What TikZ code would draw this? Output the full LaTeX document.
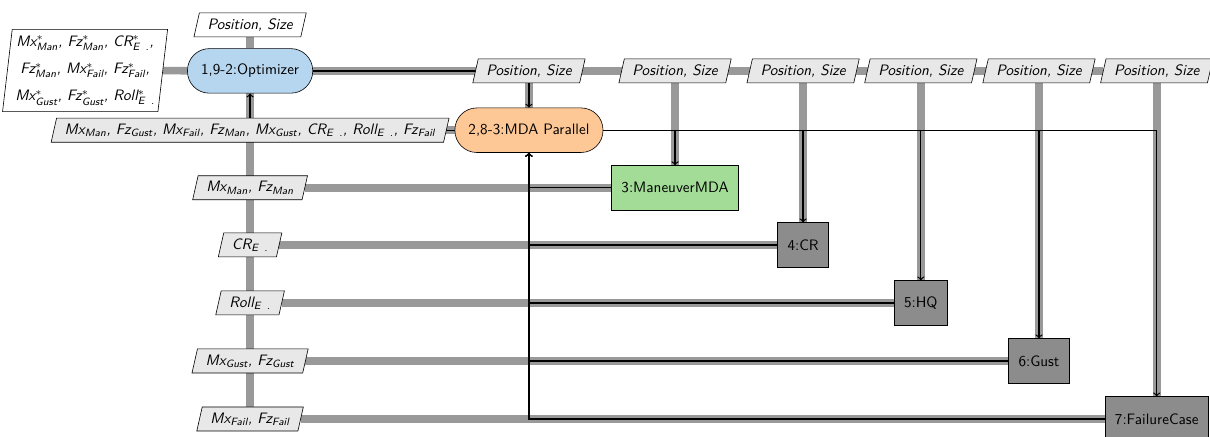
\documentclass[tikz,border=0pt]{standalone}
\usepackage{amsmath}
\usepackage{tikz}
\usetikzlibrary{arrows,backgrounds,calc}

\definecolor{optblue}{RGB}{182,214,240}
\definecolor{mdaorange}{RGB}{253,200,150}
\definecolor{subgreen}{RGB}{162,220,150}
\definecolor{funcgray}{RGB}{140,140,140}
\definecolor{datafill}{RGB}{232,232,232}

\pgfdeclarelayer{boxes}
\pgfsetlayers{background,boxes,main}

\newcommand{\vsb}[2]{#1$_{\text{#2}}$}
\newcommand{\vopt}[2]{#1$^{*}_{\text{#2}}$}
% slanted frame behind a data node
\newcommand{\dbox}[3][1.8pt]{%
  \draw[fill=#3] ($(#2.south west)+(-#1,0)$) -- ($(#2.north west)+(#1,0)$)
    -- ($(#2.north east)+(#1,0)$) -- ($(#2.south east)+(-#1,0)$) -- cycle;}

\tikzset{
  optim/.style={draw,fill=optblue,rounded corners=14.5pt,minimum height=29.5pt,inner xsep=9pt,font=\sffamily},
  mda/.style={optim,fill=mdaorange},
  func/.style={draw,fill=funcgray,minimum height=29.5pt,inner xsep=6.5pt,font=\sffamily},
  subfunc/.style={func,fill=subgreen},
  dataio/.style={minimum height=15.5pt,inner xsep=7pt,inner ysep=2pt,font=\sffamily\itshape},
  dataline/.style={line width=5pt,color=black!40},
  procline/.style={line width=0.8pt,black,>=to},
}

\begin{document}
\begin{tikzpicture}
\useasboundingbox (0,0) rectangle (28.16,-10.15);

% components
\node[optim] (opt) at (5.82,-1.65) {1,9-2:Optimizer};
\node[mda] (mda) at (12.31,-3.03) {2,8-3:MDA Parallel};
\node[subfunc] (man) at (15.71,-4.37) {3:ManeuverMDA};
\node[func] (cr) at (18.69,-5.70) {4:CR};
\node[func] (hq) at (21.43,-7.05) {5:HQ};
\node[func] (gust) at (24.18,-8.40) {6:Gust};
\node[func] (fail) at (26.92,-9.75) {7:FailureCase};

% design variables
\node[dataio] (opt-in) at (5.82,-0.58) {Position, Size};
\node[dataio,align=center,inner xsep=5pt,inner ysep=4pt] (opt-out) at (1.98,-1.64)
  {\vopt{Mx}{Man}, \vopt{Fz}{Man}, \vopt{CR}{E\hspace{0.6em}.},\\[6pt]
   \vopt{Fz}{Man}, \vopt{Mx}{Fail}, \vopt{Fz}{Fail},\\[6pt]
   \vopt{Mx}{Gust}, \vopt{Fz}{Gust}, \vopt{Roll}{E\hspace{0.6em}.}};
\node[dataio] (opt-mda) at (12.31,-1.65) {Position, Size};
\node[dataio] (opt-man) at (15.71,-1.65) {Position, Size};
\node[dataio] (opt-cr) at (18.69,-1.65) {Position, Size};
\node[dataio] (opt-hq) at (21.43,-1.65) {Position, Size};
\node[dataio] (opt-gust) at (24.18,-1.65) {Position, Size};
\node[dataio] (opt-fail) at (26.92,-1.65) {Position, Size};

% responses back to the optimizer
\node[dataio] (mda-opt) at (5.82,-3.03) {\vsb{Mx}{Man}, \vsb{Fz}{Gust}, \vsb{Mx}{Fail}, \vsb{Fz}{Man}, \vsb{Mx}{Gust}, \vsb{CR}{E\hspace{0.6em}.}, \vsb{Roll}{E\hspace{0.6em}.}, \vsb{Fz}{Fail}};
\node[dataio] (man-opt) at (5.82,-4.37) {\vsb{Mx}{Man}, \vsb{Fz}{Man}};
\node[dataio] (cr-opt) at (5.82,-5.70) {\vsb{CR}{E\hspace{0.6em}.}};
\node[dataio] (hq-opt) at (5.82,-7.05) {\vsb{Roll}{E\hspace{0.6em}.}};
\node[dataio] (gust-opt) at (5.82,-8.40) {\vsb{Mx}{Gust}, \vsb{Fz}{Gust}};
\node[dataio] (fail-opt) at (5.82,-9.75) {\vsb{Mx}{Fail}, \vsb{Fz}{Fail}};

\begin{pgfonlayer}{boxes}
\dbox[3.2pt]{opt-out}{white}
\dbox{opt-in}{white}
\foreach \n in {opt-mda,opt-man,opt-cr,opt-hq,opt-gust,opt-fail,
  mda-opt,man-opt,cr-opt,hq-opt,gust-opt,fail-opt}
  \dbox{\n}{datafill};
\end{pgfonlayer}

\begin{pgfonlayer}{background}
% data flow
\draw[dataline] (opt-in) -- (opt);
\draw[dataline] (opt-out) -- (opt);
\draw[dataline] (opt) -- (opt-fail);
\draw[dataline] (opt) -- (fail-opt);
\foreach \f in {mda,man,cr,hq,gust,fail} {
  \draw[dataline] (opt-\f) -- (\f);
  \draw[dataline] (\f-opt) -- (\f);
}
% process flow
\draw[procline,->] (opt) -| (mda);
\foreach \f in {man,cr,hq,gust,fail} {
  \draw[procline,->] (mda) -| (\f);
  \draw[procline,->] (\f) -| (mda);
}
\draw[procline,->] (mda) -| (opt);
\end{pgfonlayer}
\end{tikzpicture}
\end{document}
